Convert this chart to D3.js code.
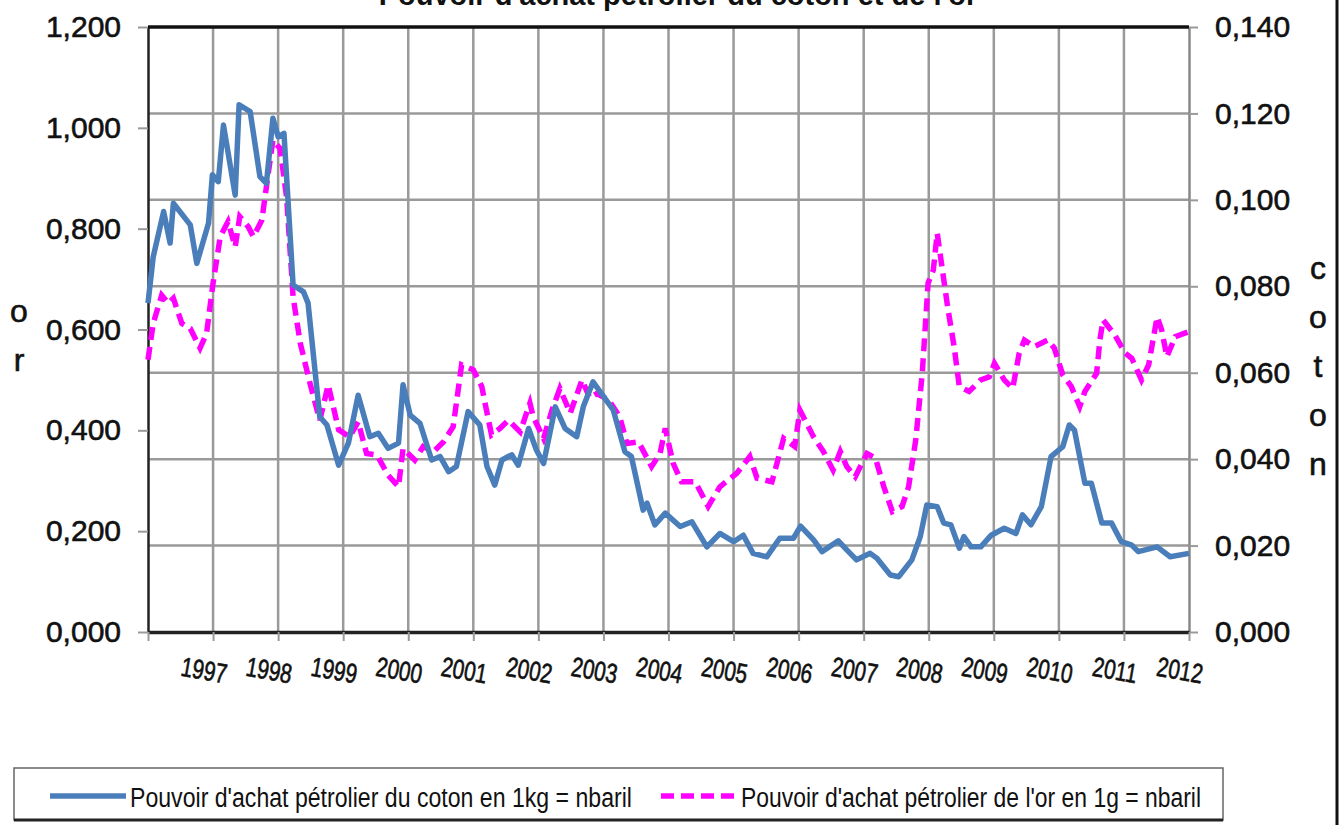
<!DOCTYPE html>
<html>
<head>
<meta charset="utf-8">
<title>Pouvoir d'achat pétrolier du coton et de l'or</title>
<script src="https://cdn.jsdelivr.net/npm/d3@7"></script>
<style>
  body { margin: 0; background: #fff; }
  text { font-family: "Liberation Sans", Arial, sans-serif; fill: #111; }
  .heavy { stroke: #111; stroke-width: 0.6px; }
</style>
</head>
<body>
<div id="chart"></div>
<script>
// cotton: barrels of oil per kg (right axis)
var cotonYears = [1996.00,1996.08,1996.24,1996.34,1996.39,1996.65,1996.75,1996.93,1996.99,1997.08,1997.16,1997.34,1997.40,1997.57,1997.72,1997.82,1997.92,1998.00,1998.09,1998.23,1998.39,1998.46,1998.64,1998.75,1998.93,1999.08,1999.23,1999.41,1999.54,1999.69,1999.85,1999.92,2000.03,2000.18,2000.36,2000.49,2000.62,2000.74,2000.92,2001.10,2001.21,2001.33,2001.44,2001.59,2001.69,2001.85,2001.97,2002.08,2002.26,2002.41,2002.59,2002.69,2002.84,2003.02,2003.15,2003.33,2003.43,2003.61,2003.67,2003.79,2003.95,2004.18,2004.36,2004.59,2004.79,2005.00,2005.15,2005.30,2005.51,2005.71,2005.92,2006.03,2006.23,2006.36,2006.61,2006.74,2006.89,2007.10,2007.20,2007.41,2007.54,2007.74,2007.87,2007.97,2008.13,2008.23,2008.34,2008.47,2008.54,2008.65,2008.80,2008.96,2009.16,2009.34,2009.44,2009.57,2009.73,2009.88,2010.06,2010.16,2010.24,2010.40,2010.50,2010.66,2010.81,2010.96,2011.12,2011.22,2011.51,2011.71,2012.00];
var cotonValues = [0.0761,0.0868,0.0973,0.0900,0.0992,0.0942,0.0853,0.0946,0.1058,0.1042,0.1173,0.1011,0.1220,0.1204,0.1054,0.1038,0.1189,0.1146,0.1154,0.0803,0.0787,0.0761,0.0498,0.0479,0.0386,0.0437,0.0548,0.0452,0.0460,0.0425,0.0437,0.0572,0.0502,0.0483,0.0398,0.0406,0.0371,0.0383,0.0510,0.0479,0.0383,0.0340,0.0398,0.0410,0.0386,0.0471,0.0421,0.0390,0.0521,0.0471,0.0452,0.0521,0.0579,0.0541,0.0514,0.0417,0.0406,0.0282,0.0298,0.0248,0.0275,0.0244,0.0255,0.0197,0.0228,0.0209,0.0224,0.0182,0.0174,0.0217,0.0217,0.0245,0.0213,0.0186,0.0211,0.0190,0.0167,0.0182,0.0171,0.0132,0.0128,0.0167,0.0221,0.0294,0.0290,0.0252,0.0248,0.0194,0.0221,0.0197,0.0197,0.0224,0.0240,0.0228,0.0271,0.0248,0.0290,0.0406,0.0429,0.0479,0.0467,0.0344,0.0344,0.0252,0.0252,0.0209,0.0201,0.0186,0.0197,0.0174,0.0182];

// gold: barrels of oil per gram (left axis)
var orYears = [1996.00,1996.08,1996.21,1996.31,1996.39,1996.52,1996.65,1996.80,1996.90,1997.00,1997.11,1997.23,1997.34,1997.41,1997.54,1997.62,1997.75,1997.82,1997.92,1998.03,1998.13,1998.23,1998.34,1998.49,1998.64,1998.77,1998.93,1999.10,1999.23,1999.36,1999.52,1999.69,1999.85,1999.92,2000.10,2000.23,2000.39,2000.54,2000.69,2000.82,2001.00,2001.13,2001.18,2001.28,2001.41,2001.54,2001.72,2001.87,2001.92,2002.08,2002.21,2002.33,2002.49,2002.67,2002.79,2002.90,2003.08,2003.25,2003.36,2003.54,2003.74,2003.87,2003.95,2004.07,2004.20,2004.41,2004.61,2004.79,2005.05,2005.25,2005.36,2005.59,2005.77,2005.94,2006.02,2006.23,2006.38,2006.53,2006.64,2006.74,2006.87,2007.05,2007.18,2007.31,2007.44,2007.59,2007.69,2007.80,2007.90,2007.99,2008.07,2008.13,2008.21,2008.29,2008.39,2008.47,2008.62,2008.80,2008.93,2009.01,2009.16,2009.29,2009.39,2009.47,2009.62,2009.83,2009.93,2010.06,2010.19,2010.32,2010.40,2010.58,2010.63,2010.68,2010.86,2011.02,2011.12,2011.27,2011.38,2011.51,2011.58,2011.66,2011.79,2012.00];
var orValues = [0.540,0.612,0.668,0.652,0.662,0.612,0.602,0.563,0.592,0.692,0.784,0.814,0.764,0.824,0.804,0.784,0.817,0.883,0.976,0.959,0.863,0.665,0.573,0.493,0.420,0.490,0.401,0.387,0.417,0.354,0.351,0.311,0.288,0.364,0.341,0.368,0.358,0.377,0.407,0.530,0.520,0.487,0.454,0.391,0.404,0.420,0.397,0.454,0.427,0.384,0.440,0.483,0.434,0.500,0.464,0.473,0.460,0.427,0.374,0.377,0.328,0.354,0.404,0.335,0.298,0.298,0.249,0.288,0.315,0.348,0.305,0.298,0.384,0.368,0.440,0.387,0.358,0.321,0.358,0.328,0.308,0.354,0.345,0.288,0.239,0.249,0.288,0.381,0.513,0.692,0.718,0.791,0.718,0.645,0.566,0.487,0.477,0.500,0.506,0.533,0.500,0.483,0.553,0.579,0.566,0.579,0.563,0.510,0.487,0.447,0.477,0.513,0.579,0.619,0.589,0.553,0.543,0.500,0.530,0.625,0.599,0.546,0.586,0.596];

var yearTicks = [1996,1997,1998,1999,2000,2001,2002,2003,2004,2005,2006,2007,2008,2009,2010,2011,2012];
var yearLabels = ["1997","1998","1999","2000","2001","2002","2003","2004","2005","2006","2007","2008","2009","2010","2011","2012"];
var orTicks = [0, 0.2, 0.4, 0.6, 0.8, 1.0, 1.2];
var cotonTicks = [0, 0.02, 0.04, 0.06, 0.08, 0.10, 0.12, 0.14];

var width = 1343, height = 825;
var plotLeft = 148, plotRight = 1189, plotTop = 27, plotBottom = 632;
var gridColor = "#9a9a9a";

var svg = d3.select("#chart").append("svg")
    .attr("width", width)
    .attr("height", height);

var x = d3.scaleLinear().domain([1996, 2012]).range([plotLeft, plotRight]);
var yOr = d3.scaleLinear().domain([0, 1.2]).range([plotBottom, plotTop]);
var yCoton = d3.scaleLinear().domain([0, 0.14]).range([plotBottom, plotTop]);

var fmt = function(d) { return d3.format(".3f")(d).replace(".", ","); };

// gridlines
svg.append("g").selectAll("line")
    .data(yearTicks.slice(1, -1))
    .enter().append("line")
    .attr("x1", d => x(d)).attr("x2", d => x(d))
    .attr("y1", plotTop).attr("y2", plotBottom)
    .attr("stroke", gridColor).attr("stroke-width", 2.5);

svg.append("g").selectAll("line")
    .data(cotonTicks.slice(1, -1))
    .enter().append("line")
    .attr("x1", plotLeft).attr("x2", plotRight)
    .attr("y1", d => yCoton(d)).attr("y2", d => yCoton(d))
    .attr("stroke", gridColor).attr("stroke-width", 2.5);

// left axis (or)
var gl = svg.append("g").attr("transform", "translate(" + plotLeft + ",0)")
    .call(d3.axisLeft(yOr).tickValues(orTicks).tickFormat(fmt).tickSizeInner(10).tickSizeOuter(0).tickPadding(17));
gl.select(".domain").attr("stroke", "#222").attr("stroke-width", 2.5);
gl.selectAll(".tick line").attr("stroke", gridColor).attr("stroke-width", 2);
gl.selectAll(".tick text").attr("font-size", 30).attr("font-family", null).attr("fill", "#111").attr("class", "heavy");

// right axis (coton)
var gr = svg.append("g").attr("transform", "translate(" + plotRight + ",0)")
    .call(d3.axisRight(yCoton).tickValues(cotonTicks).tickFormat(fmt).tickSizeInner(9).tickSizeOuter(0).tickPadding(17));
gr.select(".domain").attr("stroke", "#888").attr("stroke-width", 2.5);
gr.selectAll(".tick line").attr("stroke", gridColor).attr("stroke-width", 2);
gr.selectAll(".tick text").attr("font-size", 30).attr("font-family", null).attr("fill", "#111").attr("class", "heavy");

// bottom axis
var gb = svg.append("g").attr("transform", "translate(0," + plotBottom + ")")
    .call(d3.axisBottom(x).tickValues(yearTicks).tickFormat("").tickSizeInner(9).tickSizeOuter(0));
gb.select(".domain").attr("stroke", "#222").attr("stroke-width", 3.5);
gb.selectAll(".tick line").attr("stroke", gridColor).attr("stroke-width", 2);

svg.append("g").selectAll("text")
    .data(yearLabels)
    .enter().append("text")
    .attr("class", "heavy")
    .attr("transform", d => "translate(" + (x(+d) - 9) + ",670) rotate(10) scale(0.8,1.05)")
    .attr("text-anchor", "middle")
    .attr("dominant-baseline", "central")
    .attr("font-size", 26)
    .text(d => d);

// top border
svg.append("line")
    .attr("x1", plotLeft).attr("x2", plotRight)
    .attr("y1", plotTop).attr("y2", plotTop)
    .attr("stroke", "#111").attr("stroke-width", 3.5);

// series
var lineOr = d3.line().x(d => x(d[0])).y(d => yOr(d[1]));
var lineCoton = d3.line().x(d => x(d[0])).y(d => yCoton(d[1]));

svg.append("path")
    .datum(d3.zip(orYears, orValues))
    .attr("d", lineOr)
    .attr("fill", "none")
    .attr("stroke", "#ff00ff")
    .attr("stroke-width", 5.5)
    .attr("stroke-dasharray", "13,7");

svg.append("path")
    .datum(d3.zip(cotonYears, cotonValues))
    .attr("d", lineCoton)
    .attr("fill", "none")
    .attr("stroke", "#4a7ebb")
    .attr("stroke-width", 5.5)
    .attr("stroke-linejoin", "round");

// title (partly cut off at the top, as in the source)
svg.append("text")
    .attr("x", 678).attr("y", 5)
    .attr("text-anchor", "middle")
    .attr("font-size", 29).attr("font-weight", "bold")
    .text("Pouvoir d'achat pétrolier du coton et de l'or");

// stacked axis titles
svg.append("g").selectAll("text")
    .data("or".split(""))
    .enter().append("text")
    .attr("class", "heavy")
    .attr("x", 19).attr("y", (d, i) => 322 + i * 49)
    .attr("text-anchor", "middle")
    .attr("font-size", 32)
    .text(d => d);

svg.append("g").selectAll("text")
    .data("coton".split(""))
    .enter().append("text")
    .attr("class", "heavy")
    .attr("x", 1318).attr("y", (d, i) => 279 + i * 49)
    .attr("text-anchor", "middle")
    .attr("font-size", 32)
    .text(d => d);

// outer frame edge on the right
svg.append("line")
    .attr("x1", 1337).attr("x2", 1337)
    .attr("y1", 0).attr("y2", height)
    .attr("stroke", "#111").attr("stroke-width", 3);

// legend
var lg = svg.append("g");
lg.append("rect")
    .attr("x", 14).attr("y", 768).attr("width", 1209).attr("height", 52)
    .attr("fill", "#fff").attr("stroke", "#666").attr("stroke-width", 1.5);
lg.append("line")
    .attr("x1", 14).attr("x2", 1223).attr("y1", 820).attr("y2", 820)
    .attr("stroke", "#222").attr("stroke-width", 3);

lg.append("line")
    .attr("x1", 50).attr("x2", 126).attr("y1", 796).attr("y2", 796)
    .attr("stroke", "#4a7ebb").attr("stroke-width", 5.5);
lg.append("text")
    .attr("x", 130).attr("y", 807)
    .attr("font-size", 27)
    .attr("textLength", 502).attr("lengthAdjust", "spacingAndGlyphs")
    .text("Pouvoir d'achat pétrolier du coton en 1kg = nbaril");

lg.append("line")
    .attr("x1", 661).attr("x2", 737).attr("y1", 796).attr("y2", 796)
    .attr("stroke", "#ff00ff").attr("stroke-width", 5.5)
    .attr("stroke-dasharray", "13,7");
lg.append("text")
    .attr("x", 741).attr("y", 807)
    .attr("font-size", 27)
    .attr("textLength", 460).attr("lengthAdjust", "spacingAndGlyphs")
    .text("Pouvoir d'achat pétrolier de l'or en 1g = nbaril");
</script>
</body>
</html>
